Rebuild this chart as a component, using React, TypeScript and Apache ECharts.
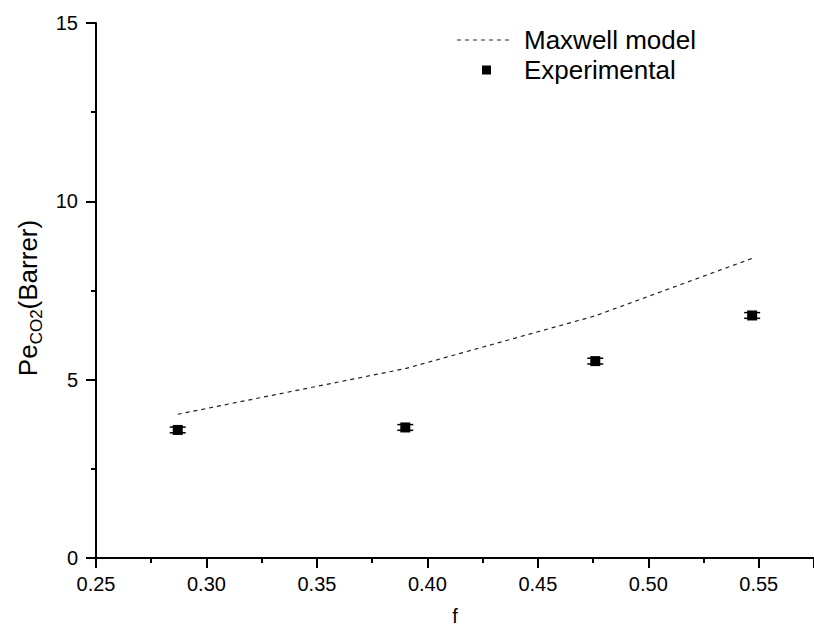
import React, { useEffect, useRef } from "react";
import * as echarts from "echarts";

const fractions = [0.287, 0.39, 0.476, 0.547];
const experimental = [3.59, 3.66, 5.52, 6.8];
const errors = [0.08, 0.08, 0.08, 0.08];
const maxwellF = [0.287, 0.39, 0.476, 0.547];
const maxwellModel = [4.03, 5.31, 6.79, 8.4];
const xTicks = [0.25, 0.3, 0.35, 0.4, 0.45, 0.5, 0.55];
const yTicks = [0, 5, 10, 15];

const FONT = "'Liberation Sans', Arial, sans-serif";

function dashIcon(): string {
  let d = "path://M0,0M52,10";
  for (let i = 0; i < 7; i++) {
    d += `M${i * 8},4.4h4v1.2h-4z`;
  }
  return d;
}

export default function App() {
  const ref = useRef<HTMLDivElement>(null);
  useEffect(() => {
    if (!ref.current) return;
    const chart = echarts.init(ref.current, null, { renderer: "svg" });
    const expData = fractions.map((f, i) => [f, experimental[i]]);
    const errData = fractions.map((f, i) => [f, experimental[i], errors[i]]);
    const modelData = maxwellF.map((f, i) => [f, maxwellModel[i]]);
    chart.setOption({
      animation: false,
      backgroundColor: "#ffffff",
      textStyle: { fontFamily: FONT },
      grid: { left: 96, top: 23, bottom: 74, right: -6.75, containLabel: false },
      legend: {
        orient: "vertical",
        left: 457,
        top: 27,
        padding: 0,
        itemGap: 4,
        itemWidth: 52,
        itemHeight: 10,
        textStyle: { fontSize: 26, color: "#000", fontFamily: FONT, padding: [0, 0, 0, 10] },
        data: [
          { name: "Maxwell model", icon: dashIcon() },
          { name: "Experimental", icon: "path://M0,0M52,10M25,0.5h9v9h-9z" },
        ],
      },
      xAxis: {
        type: "value",
        min: xTicks[0],
        max: 0.575,
        interval: 0.05,
        name: "f",
        nameLocation: "middle",
        nameGap: 48,
        nameTextStyle: { fontSize: 20, color: "#000", fontFamily: FONT },
        axisLine: { lineStyle: { color: "#000", width: 2 } },
        axisTick: { show: true, length: 10, lineStyle: { color: "#000", width: 2 } },
        minorTick: { show: true, splitNumber: 2, length: 5, lineStyle: { color: "#000", width: 2 } },
        axisLabel: {
          fontSize: 20,
          color: "#000",
          margin: 16,
          showMaxLabel: false,
          formatter: (v: number) => (xTicks.some((t) => Math.abs(t - v) < 1e-9) ? v.toFixed(2) : ""),
        },
        splitLine: { show: false },
      },
      yAxis: {
        type: "value",
        min: yTicks[0],
        max: yTicks[yTicks.length - 1],
        interval: 5,
        axisLine: { show: true, lineStyle: { color: "#000", width: 2 } },
        axisTick: { show: true, length: 10, lineStyle: { color: "#000", width: 2 } },
        minorTick: { show: true, splitNumber: 2, length: 5, lineStyle: { color: "#000", width: 2 } },
        axisLabel: { fontSize: 20, color: "#000", margin: 18 },
        splitLine: { show: false },
      },
      graphic: [
        {
          type: "text",
          x: 30,
          y: 298,
          rotation: Math.PI / 2,
          style: {
            text: "{a|Pe}{b|CO2}{a|(Barrer)}",
            align: "center",
            verticalAlign: "middle",
            fill: "#000",
            rich: {
              a: { fontSize: 26, fontFamily: FONT, fill: "#000", lineHeight: 26, verticalAlign: "top" },
              b: { fontSize: 17, fontFamily: FONT, fill: "#000", padding: [13, 0, 0, 0], verticalAlign: "bottom" },
            },
          },
        },
      ],
      series: [
        {
          name: "Maxwell model",
          type: "line",
          data: modelData,
          symbol: "none",
          smooth: false,
          lineStyle: { color: "#222", width: 1.2, type: [4, 4] },
          itemStyle: { color: "#222" },
          z: 2,
        },
        {
          name: "Error",
          type: "custom",
          data: errData,
          renderItem: (params: any, api: any) => {
            const x = api.value(0);
            const y = api.value(1);
            const e = api.value(2);
            const top = api.coord([x, y + e]);
            const bot = api.coord([x, y - e]);
            const hw = 8;
            const s = { stroke: "#000", lineWidth: 1.5 };
            return {
              type: "group",
              children: [
                { type: "line", shape: { x1: top[0], y1: top[1] - 1.5, x2: bot[0], y2: bot[1] + 1.5 }, style: s },
                { type: "line", shape: { x1: top[0] - hw, y1: top[1], x2: top[0] + hw, y2: top[1] }, style: s },
                { type: "line", shape: { x1: bot[0] - hw, y1: bot[1], x2: bot[0] + hw, y2: bot[1] }, style: s },
              ],
            };
          },
          z: 3,
        },
        {
          name: "Experimental",
          type: "scatter",
          data: expData,
          symbol: "rect",
          symbolSize: 10,
          itemStyle: { color: "#000", opacity: 1 },
          z: 4,
        },
      ],
    });
    return () => chart.dispose();
  }, []);
  return (
    <div
      ref={ref}
      style={{ position: "fixed", left: 0, top: 0, width: 814, height: 632, background: "#fff" }}
    />
  );
}
